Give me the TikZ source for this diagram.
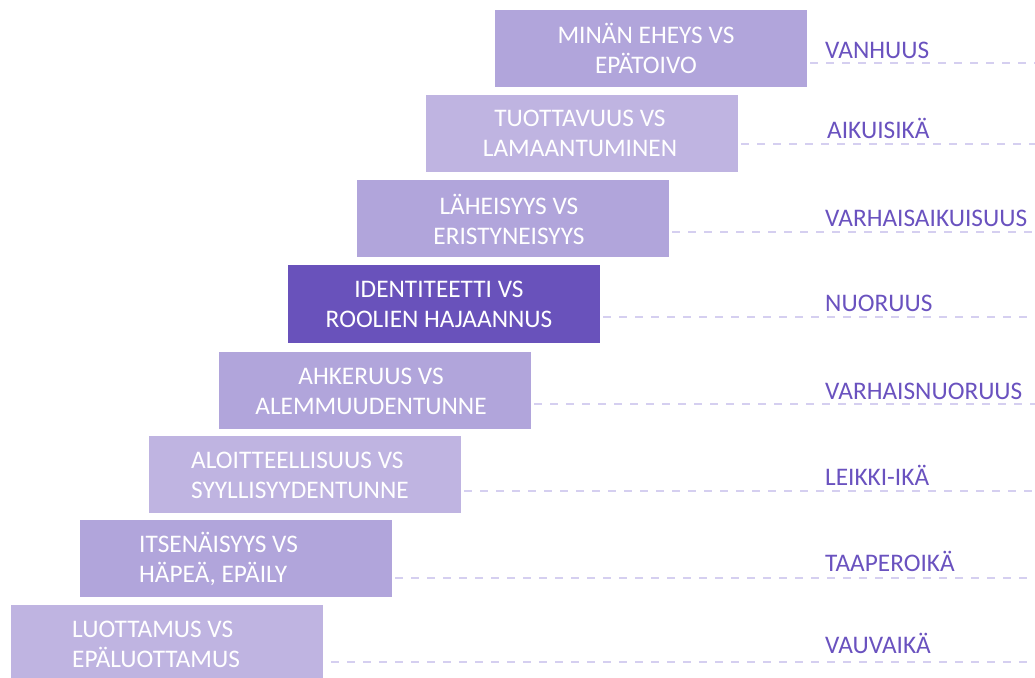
\documentclass[tikz,border=0pt]{standalone}
\usepackage{fontspec}
\setmainfont{Carlito}
\definecolor{boxmid}{HTML}{B1A5DB}
\definecolor{boxlight}{HTML}{BFB4E1}
\definecolor{boxdark}{HTML}{6952BB}
\definecolor{lblcol}{HTML}{6A52BF}
\definecolor{dashcol}{HTML}{D5CFF0}
\begin{document}
\begin{tikzpicture}[x=1pt,y=-1pt,
  stagebox/.style={draw=none,rectangle,minimum width=312pt,minimum height=77pt,inner sep=0pt,anchor=north west},
  stagetxt/.style={text=white,font=\fontsize{25.3}{30}\selectfont,inner sep=0pt},
  agelbl/.style={text=lblcol,font=\fontsize{25.3}{30}\selectfont,inner sep=0pt,anchor=base west},
  guide/.style={draw=dashcol,line width=1.4pt,dash pattern=on 8pt off 8pt}]
\useasboundingbox (0,0) rectangle (1035,677);
\clip (0,0) rectangle (1035,677);
% boxes
\node[stagebox,fill=boxmid]   (b1) at (495,10)  {};
\node[stagebox,fill=boxlight] (b2) at (426,95)  {};
\node[stagebox,fill=boxmid]   (b3) at (357,180) {};
\node[stagebox,fill=boxdark,minimum height=78pt]  (b4) at (288,265) {};
\node[stagebox,fill=boxmid]   (b5) at (219,352) {};
\node[stagebox,fill=boxlight] (b6) at (149,436) {};
\node[stagebox,fill=boxmid]   (b7) at (80,520)  {};
\node[stagebox,fill=boxlight,minimum height=90pt] (b8) at (11,605) {};
% texts
\node[stagetxt,align=center] (t1) at (646,48)  {MINÄN EHEYS VS\\EPÄTOIVO};
\node[stagetxt,align=center] (t2) at (580,133) {TUOTTAVUUS VS\\LAMAANTUMINEN};
\node[stagetxt,align=center] (t3) at (509,219) {LÄHEISYYS VS\\ERISTYNEISYYS};
\node[stagetxt,align=center] (t4) at (439,304) {IDENTITEETTI VS\\ROOLIEN HAJAANNUS};
\node[stagetxt,align=center] (t5) at (371,391) {AHKERUUS VS\\ALEMMUUDENTUNNE};
\node[stagetxt,align=left,anchor=west] (t6) at (191,475) {ALOITTEELLISUUS VS\\SYYLLISYYDENTUNNE};
\node[stagetxt,align=left,anchor=west] (t7) at (139,559) {ITSENÄISYYS VS\\HÄPEÄ, EPÄILY};
\node[stagetxt,align=left,anchor=west] (t8) at (72,644)  {LUOTTAMUS VS\\EPÄLUOTTAMUS};
% guide lines
\coordinate (e1) at (1035,63);
\coordinate (e2) at (1035,144);
\coordinate (e3) at (1035,232);
\coordinate (e4) at (1035,317);
\coordinate (e5) at (1035,404);
\coordinate (e6) at (1035,491);
\coordinate (e7) at (1035,578);
\coordinate (e8) at (1035,662);
\draw[guide] (b1.east |- e1) ++(3,0) -- (e1);
\draw[guide] (b2.east |- e2) ++(3,0) -- (e2);
\draw[guide] (b3.east |- e3) ++(3,0) -- (e3);
\draw[guide] (b4.east |- e4) ++(3,0) -- (e4);
\draw[guide] (b5.east |- e5) ++(3,0) -- (e5);
\draw[guide] (b6.east |- e6) ++(3,0) -- (e6);
\draw[guide] (b7.east |- e7) ++(3,0) -- (e7);
\draw[guide] (b8.east |- e8) ++(8,0) -- (e8);
% labels
\node[agelbl] (l1) at (825,59)  {VANHUUS};
\node[agelbl] (l2) at (827,138) {AIKUISIKÄ};
\node[agelbl] (l3) at (825,226) {VARHAISAIKUISUUS};
\node[agelbl] (l4) at (825,311) {NUORUUS};
\node[agelbl] (l5) at (825,399) {VARHAISNUORUUS};
\node[agelbl] (l6) at (825,485) {LEIKKI-IKÄ};
\node[agelbl] (l7) at (825,571) {TAAPEROIKÄ};
\node[agelbl] (l8) at (825,653) {VAUVAIKÄ};
\end{tikzpicture}
\end{document}
